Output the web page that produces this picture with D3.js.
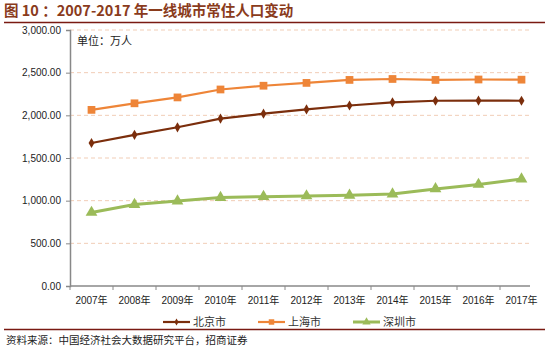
<!DOCTYPE html>
<html lang="zh">
<head>
<meta charset="UTF-8" />
<title>一线城市常住人口</title>
<script src="https://cdn.jsdelivr.net/npm/d3@7"></script>
<style>
  body { margin: 0; background: #fff; }
  text { font-family: "Liberation Sans", "Noto Sans CJK SC", sans-serif; }
  .cjk { font-family: "Noto Sans CJK SC", sans-serif; }
</style>
</head>
<body>
<script>
    const years = ["2007年", "2008年", "2009年", "2010年", "2011年", "2012年", "2013年", "2014年", "2015年", "2016年", "2017年"];
    const beijing = [1676, 1771, 1860, 1962, 2019, 2069, 2115, 2152, 2171, 2173, 2171];
    const shanghai = [2064, 2141, 2210, 2303, 2347, 2380, 2415, 2426, 2415, 2420, 2418];
    const shenzhen = [862, 954, 995, 1037, 1047, 1055, 1063, 1078, 1138, 1190, 1253];
    const yTicks = [0, 500, 1000, 1500, 2000, 2500, 3000];

    const w = 549, h = 351;
    const svg = d3.select("body").append("svg")
        .attr("width", w)
        .attr("height", h);

    // title + rules
    svg.append("text")
        .attr("class", "cjk")
        .attr("x", 4).attr("y", 16)
        .attr("fill", "#8a3b1c")
        .attr("font-size", 14.5)
        .attr("font-weight", "bold")
        .text("图 10 ：2007-2017 年一线城市常住人口变动");
    svg.append("line").attr("x1", 4).attr("x2", 545).attr("y1", 22.5).attr("y2", 22.5)
        .attr("stroke", "#7a1a12").attr("stroke-width", 1.5);
    svg.append("line").attr("x1", 4).attr("x2", 545).attr("y1", 329.5).attr("y2", 329.5)
        .attr("stroke", "#7a1a12").attr("stroke-width", 1.5);
    svg.append("text")
        .attr("class", "cjk")
        .attr("x", 6).attr("y", 344)
        .attr("fill", "#222")
        .attr("font-size", 10.5)
        .text("资料来源：中国经济社会大数据研究平台，招商证券");

    let x = d3.scaleBand().domain(years).range([70, 543]);
    let y = d3.scaleLinear().domain([0, 3000]).range([286, 30]);
    const right = 530;

    // gridlines
    svg.append("g").selectAll("line")
        .data(yTicks.filter(d => d > 0))
        .enter().append("line")
        .attr("x1", 70).attr("x2", right)
        .attr("y1", d => y(d)).attr("y2", d => y(d))
        .attr("stroke", "#f1cdb6")
        .attr("stroke-dasharray", "4,3");

    // y axis
    let yAxis = svg.append("g")
        .attr("transform", "translate(70,0)")
        .call(d3.axisLeft(y).tickValues(yTicks).tickSize(4).tickFormat(d3.format(",.2f")));
    yAxis.select(".domain").attr("stroke", "#888").attr("stroke-width", 1.5);
    yAxis.selectAll(".tick line").attr("stroke", "#888");
    yAxis.selectAll("text").attr("font-size", 10).attr("fill", "#222").attr("x", -9);

    // x axis
    let xAxis = svg.append("g")
        .attr("transform", "translate(0,286)")
        .call(d3.axisBottom(x).tickSize(0));
    xAxis.select(".domain").remove();
    xAxis.selectAll("text").attr("font-size", 10).attr("fill", "#222").attr("dy", "1.45em");
    svg.append("line").attr("x1", 70).attr("x2", right).attr("y1", 286).attr("y2", 286)
        .attr("stroke", "#888").attr("stroke-width", 1.5);
    svg.append("g").selectAll("line")
        .data(years)
        .enter().append("line")
        .attr("x1", d => x(d)).attr("x2", d => x(d))
        .attr("y1", 286).attr("y2", 290)
        .attr("stroke", "#888");

    svg.append("text")
        .attr("class", "cjk")
        .attr("x", 77).attr("y", 45)
        .attr("font-size", 11)
        .attr("fill", "#222")
        .text("单位：万人");

    const series = [
        { name: "北京市", values: beijing, color: "#7b2e0c", shape: "diamond", width: 2.2, size: 30 },
        { name: "上海市", values: shanghai, color: "#ee8538", shape: "square", width: 2.2, size: 60 },
        { name: "深圳市", values: shenzhen, color: "#9bbb59", shape: "triangle", width: 3, size: 60 }
    ];
    const symbols = { diamond: d3.symbolDiamond, square: d3.symbolSquare, triangle: d3.symbolTriangle };

    let line = d3.line()
        .x((d, i) => x(years[i]) + x.bandwidth() / 2)
        .y(d => y(d));

    series.forEach(s => {
        svg.append("path")
            .datum(s.values)
            .attr("d", line)
            .attr("fill", "none")
            .attr("stroke", s.color)
            .attr("stroke-width", s.width);
        svg.append("g").selectAll("path")
            .data(s.values)
            .enter().append("path")
            .attr("transform", (d, i) => `translate(${x(years[i]) + x.bandwidth() / 2},${y(d)})`)
            .attr("d", d3.symbol().type(symbols[s.shape]).size(s.size))
            .attr("fill", s.color);
    });

    // legend
    let legend = svg.append("g");
    const legendX = [163, 258, 353];
    series.forEach((s, i) => {
        let lg = legend.append("g").attr("transform", `translate(${legendX[i]},322)`);
        lg.append("line").attr("x1", 0).attr("x2", 27).attr("y1", 0).attr("y2", 0)
            .attr("stroke", s.color).attr("stroke-width", s.width);
        lg.append("path").attr("transform", "translate(13.5,0)")
            .attr("d", d3.symbol().type(symbols[s.shape]).size(s.size * 0.5))
            .attr("fill", s.color);
        lg.append("text").attr("class", "cjk")
            .attr("x", 30).attr("y", 4)
            .attr("font-size", 11).attr("fill", "#333")
            .text(s.name);
    });
</script>
</body>
</html>
